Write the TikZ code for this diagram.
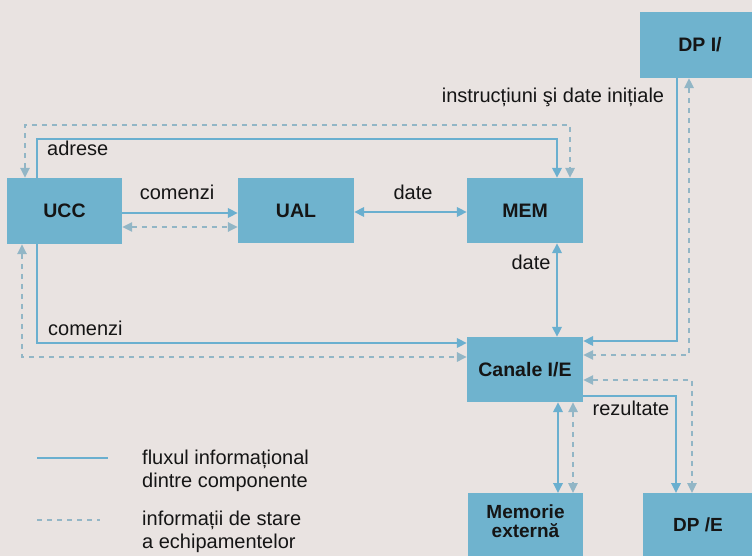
\documentclass[tikz,border=0pt]{standalone}
\usepackage{fontspec}
\setmainfont{Liberation Sans}
\usetikzlibrary{arrows.meta}
\definecolor{paper}{HTML}{E9E3E1}
\definecolor{boxc}{HTML}{6FB3CE}
\definecolor{linec}{HTML}{6AAFCF}
\definecolor{dashc}{HTML}{92B6C6}
\definecolor{ink}{HTML}{151515}
\begin{document}
\begin{tikzpicture}[x=1pt,y=-1pt,
  box/.style={fill=boxc, inner sep=0pt, text=ink, font=\bfseries\fontsize{19.5}{20}\selectfont},
  boxtext/.style={inner sep=0pt, text=ink, align=center, font=\bfseries\fontsize{19}{18.5}\selectfont},
  lbl/.style={inner sep=0pt, text=ink, font=\fontsize{20}{23}\selectfont},
  flow/.style={draw=linec, line width=1.8pt},
  stat/.style={draw=dashc, line width=1.6pt, dash pattern=on 5pt off 5pt},
  ah/.tip={Triangle[length=10pt,width=9.5pt]}
]
\useasboundingbox (0,0) rectangle (752,556);
\fill[paper] (0,0) rectangle (752,556);

% boxes
\node[box, minimum width=115pt, minimum height=66pt] (ucc) at (64.5,211) {UCC};
\node[box, minimum width=116pt, minimum height=65pt] (ual) at (296,210.5) {UAL};
\node[box, minimum width=116pt, minimum height=65pt] (mem) at (525,210.5) {MEM};
\node[box, minimum width=120pt, minimum height=66pt] (dpi) at (700,45) {DP I/};
\node[box, minimum width=116pt, minimum height=65pt] (can) at (525,369.5) {Canale I/E};
\node[box, minimum width=115pt, minimum height=70pt, anchor=north] (mex) at (525.5,493) {};
\node[boxtext] (mexl) at (525.5,521) {Memorie\\externă};
\node[box, minimum width=117pt, minimum height=70pt, anchor=north] (dpe) at (701.5,493) {};
\node[boxtext] (dpel) at (698,525) {DP /E};

% connectors: information flow (solid) and status (dashed)
\draw[flow,-{ah}] (ucc.north -| 37,0) |- (557,139) -- (mem.north -| 557,0);
\draw[stat,{ah}-{ah}] (ucc.north -| 25,0) |- (570,125) -- (mem.north -| 570,0);
\draw[flow,-{ah}] (ucc.east |- 0,213) -- (ual.west |- 0,213);
\draw[stat,{ah}-{ah}] (ucc.east |- 0,227) -- (ual.west |- 0,227);
\draw[flow,{ah}-{ah}] (ual.east |- 0,212) -- (mem.west |- 0,212);
\draw[flow,{ah}-{ah}] (mem.south -| 557,0) -- (can.north -| 557,0);
\draw[flow,-{ah}] (ucc.south -| 37,0) |- (can.west |- 0,343);
\draw[stat,{ah}-{ah}] (ucc.south -| 22,0) |- (can.west |- 0,357);
\draw[flow,-{ah}] (dpi.south -| 677,0) |- (can.east |- 0,341);
\draw[stat,{ah}-{ah}] (dpi.south -| 689,0) |- (can.east |- 0,355);
\draw[stat,{ah}-{ah}] (can.east |- 0,380) -| (dpe.north -| 692,0);
\draw[flow,-{ah}] (can.east |- 0,396) -| (dpe.north -| 676,0);
\draw[flow,{ah}-{ah}] (can.south -| 558,0) -- (mex.north -| 558,0);
\draw[stat,{ah}-{ah}] (can.south -| 573,0) -- (mex.north -| 573,0);

% labels
\node[lbl, anchor=west] (ladr) at (47,148) {adrese};
\node[lbl] (lcom1) at (177,192) {comenzi};
\node[lbl] (ldat1) at (413,192) {date};
\node[lbl] (ldat2) at (531,262) {date};
\node[lbl, anchor=west] (lcom2) at (48,328) {comenzi};
\node[lbl] (linstr) at (553,97) {instrucțiuni şi date inițiale};
\node[lbl] (lrez) at (631,408) {rezultate};

% legend
\coordinate (lg1a) at (37,458);
\coordinate (lg1b) at (108,458);
\coordinate (lg2a) at (37,520);
\coordinate (lg2b) at (100,520);
\draw[flow, line width=1.3pt] (lg1a) -- (lg1b);
\draw[stat, line width=1.3pt] (lg2a) -- (lg2b);
\node[lbl, anchor=west, align=left] (leg1) at (142,471) {fluxul informațional\\dintre componente};
\node[lbl, anchor=west, align=left] (leg2) at (142,531.5) {informații de stare\\a echipamentelor};
\end{tikzpicture}
\end{document}
